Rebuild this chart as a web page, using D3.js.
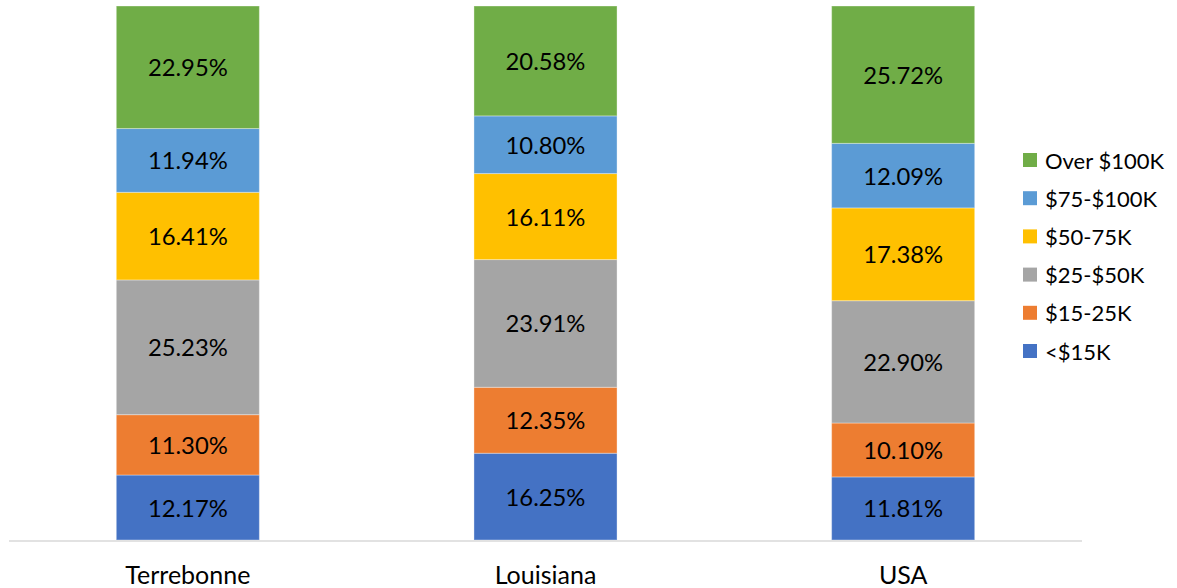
<!DOCTYPE html>
<html>
<head>
<meta charset="utf-8">
<script src="https://cdn.jsdelivr.net/npm/d3@7"></script>
<style>
  html, body { margin: 0; padding: 0; background: #fff; }
  svg { display: block; font-family: Lato, "Open Sans", sans-serif; }
</style>
</head>
<body>
<svg id="chart" width="1177" height="588"></svg>
<script>
const categories = ["Terrebonne", "Louisiana", "USA"];
const seriesNames = ["<$15K", "$15-25K", "$25-$50K", "$50-75K", "$75-$100K", "Over $100K"];
const under15K   = [12.17, 16.25, 11.81];
const k15to25    = [11.30, 12.35, 10.10];
const k25to50    = [25.23, 23.91, 22.90];
const k50to75    = [16.41, 16.11, 17.38];
const k75to100   = [11.94, 10.80, 12.09];
const over100K   = [22.95, 20.58, 25.72];
const colors = ["#4472C4", "#ED7D31", "#A5A5A5", "#FFC000", "#5B9BD5", "#70AD47"];

const seriesValues = [under15K, k15to25, k25to50, k50to75, k75to100, over100K];
const rows = categories.map((c, i) => {
  const r = { cat: c };
  seriesNames.forEach((s, j) => r[s] = seriesValues[j][i]);
  return r;
});

const svg = d3.select("#chart");
const x = d3.scaleBand().domain(categories).range([9, 1082]).paddingInner(0.6).paddingOuter(0.3);
const y = d3.scaleLinear().domain([0, 100]).range([540, 6]);

const stacked = d3.stack().keys(seriesNames)(rows);

const g = svg.append("g");
stacked.forEach((layer, j) => {
  const lg = g.append("g");
  lg.selectAll("rect").data(layer).join("rect")
    .attr("x", d => x(d.data.cat))
    .attr("y", d => y(d[1]))
    .attr("width", x.bandwidth())
    .attr("height", d => y(d[0]) - y(d[1]))
    .attr("fill", colors[j])
    .attr("stroke", "#ffffff")
    .attr("stroke-opacity", 0.35)
    .attr("stroke-width", 1);
  lg.selectAll("text").data(layer).join("text")
    .attr("x", d => x(d.data.cat) + x.bandwidth() / 2)
    .attr("y", d => (y(d[0]) + y(d[1])) / 2)
    .attr("text-anchor", "middle")
    .attr("dominant-baseline", "central")
    .attr("font-size", 23.8)
    .attr("fill", "#000")
    .text(d => (d[1] - d[0]).toFixed(2) + "%");
});

// axis line
const xAxis = d3.axisBottom(x).tickSize(0).tickPadding(25);
const ax = svg.append("g").attr("transform", "translate(0,541)").call(xAxis);
ax.select(".domain").attr("stroke", "#D9D9D9").attr("stroke-width", 1.5).attr("d", "M9,0H1082");
ax.selectAll("text").attr("font-size", 25).attr("fill", "#000").attr("font-family", "Lato, 'Open Sans', sans-serif");

// legend
const legendNames = seriesNames.slice().reverse();
const legendColors = colors.slice().reverse();
const ly = d3.scalePoint().domain(legendNames).range([160, 351]);
const leg = svg.append("g");
legendNames.forEach((n, i) => {
  leg.append("rect").attr("x", 1023).attr("y", ly(n) - 7).attr("width", 14).attr("height", 14).attr("fill", legendColors[i]);
  leg.append("text").attr("x", 1045).attr("y", ly(n)).attr("dominant-baseline", "central")
    .attr("font-size", 22).attr("fill", "#000").text(n);
});
</script>
</body>
</html>
